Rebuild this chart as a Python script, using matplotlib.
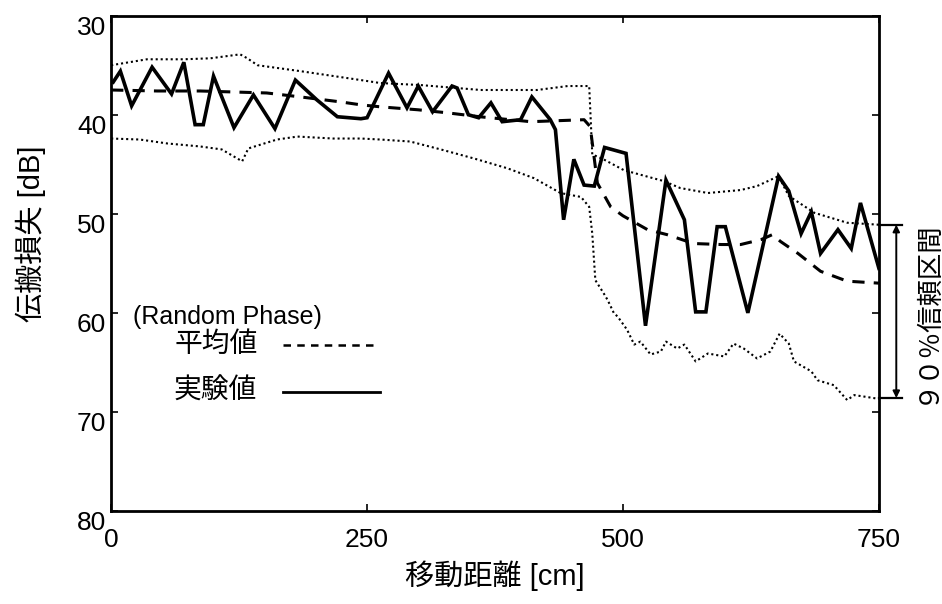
import matplotlib
matplotlib.use("Agg")
import matplotlib.pyplot as plt
from matplotlib.transforms import ScaledTranslation

plt.rcParams['font.family'] = ['Liberation Sans', 'Noto Sans CJK JP', 'DejaVu Sans']

# measured loss (実験値)
meas_x = [2, 9, 20, 40, 59, 71, 82, 90, 100, 120, 139, 160, 180, 201, 221, 244, 250,
          271, 289, 300, 314, 333, 338, 349, 359, 371, 382, 400, 411, 429, 434, 442,
          452, 462, 472, 482, 503, 522, 542, 560, 571, 581, 592, 600, 622, 652, 662,
          674, 684, 693, 710, 723, 732, 750]
meas_y = [36.7, 35.6, 39.1, 35.2, 37.9, 34.7, 41.0, 41.0, 36.1, 41.3, 38.0, 41.4, 36.5,
          38.5, 40.2, 40.4, 40.3, 35.8, 39.3, 37.1, 39.7, 37.1, 37.3, 40.0, 40.3, 38.8,
          40.7, 40.5, 38.2, 40.5, 41.5, 50.6, 44.5, 47.1, 47.2, 43.3, 43.9, 61.3, 46.6,
          50.6, 59.9, 59.9, 51.3, 51.3, 60.0, 46.2, 47.7, 52.0, 49.8, 54.0, 51.6, 53.5,
          48.9, 55.5]

# mean value (平均値)
mean_x = [0, 45, 87, 152, 185, 224, 244, 263, 300, 328, 360, 410, 462, 468, 475, 488,
          500, 524, 543, 569, 596, 615, 635, 646, 654, 671, 693, 719, 750]
mean_y = [37.5, 37.6, 37.6, 37.8, 38.2, 38.7, 39.0, 39.2, 39.5, 39.8, 40.2, 40.7, 40.5,
          41.2, 46.9, 49.3, 50.2, 51.6, 52.1, 53.0, 53.1, 53.1, 52.6, 52.1, 52.8, 54.0,
          55.8, 56.8, 57.0]

# 90% interval, upper edge
upper_x = [0, 35, 71, 97, 126, 133, 143, 185, 244, 263, 302, 361, 416, 446, 467, 470,
           481, 501, 540, 556, 583, 615, 631, 652, 662, 687, 719, 750]
upper_y = [35.0, 34.4, 34.4, 34.3, 33.9, 34.3, 35.0, 35.6, 36.5, 36.8, 37.0, 37.5, 37.5,
           37.1, 37.1, 44.0, 44.5, 45.6, 46.7, 47.4, 47.9, 47.6, 47.2, 46.2, 48.2, 49.9,
           50.9, 51.1]

# 90% interval, lower edge
lower_x = [0, 28, 55, 87, 108, 128, 134, 162, 182, 217, 244, 263, 292, 322, 354, 387,
           413, 439, 459, 467, 470, 473, 481, 485, 491, 495, 504, 511, 517, 527, 537,
           542, 553, 560, 571, 583, 599, 608, 618, 631, 644, 653, 662, 667, 684, 690,
           706, 719, 726, 745, 750]
lower_y = [42.4, 42.5, 42.9, 43.2, 43.5, 44.7, 43.4, 42.5, 42.2, 42.4, 42.4, 42.5, 42.7,
           43.5, 44.4, 45.4, 46.4, 47.9, 48.3, 49.3, 52.0, 56.7, 58.0, 58.7, 60.0, 60.4,
           61.7, 63.2, 62.9, 64.2, 63.9, 62.9, 63.6, 63.2, 64.9, 64.1, 64.4, 63.1, 63.6,
           64.6, 63.9, 62.1, 63.1, 64.9, 65.9, 66.8, 67.3, 68.8, 68.3, 68.6, 68.7]

x_ticks = [0, 250, 500, 750]
y_ticks = [30, 40, 50, 60, 70, 80]
interval_top, interval_bottom = 51.1, 68.6

fig = plt.figure(figsize=(9.42, 6.04), dpi=100)
ax = fig.add_axes([0.118, 0.154, 0.815, 0.82])

dot = (0, (1, 1.4))
ax.plot(upper_x, upper_y, color='black', lw=1.5, linestyle=dot)
ax.plot(lower_x, lower_y, color='black', lw=1.5, linestyle=dot)
ax.plot(mean_x, mean_y, color='black', lw=2.2, linestyle=(0, (4, 3)))
ax.plot(meas_x, meas_y, color='black', lw=2.6, solid_joinstyle='miter')

ax.set_xlim(0, 750)
ax.set_ylim(80, 30)
ax.set_xticks(x_ticks)
ax.set_yticks(y_ticks)
ax.tick_params(direction='in', length=5, width=1.2, labelsize=19,
               top=True, right=True)
ax.tick_params(axis='x', pad=12)
for s in ax.spines.values():
    s.set_linewidth(2)

# the scanned tick labels sit a little below their ticks
shift = ScaledTranslation(0, -7 / 72, fig.dpi_scale_trans)
for lab in ax.get_yticklabels():
    lab.set_transform(lab.get_transform() + shift)

ax.set_xlabel('移動距離 [cm]', fontsize=21, labelpad=6)
ax.set_ylabel('伝搬損失 [dB]', fontsize=21, labelpad=8)
ax.yaxis.set_label_coords(-0.085, 0.56)

# legend drawn by hand, as in the original
ax.text(0.029, 0.392, '(Random Phase)', transform=ax.transAxes, fontsize=18,
        va='center', ha='left')
ax.text(0.083, 0.335, '平均値', transform=ax.transAxes, fontsize=20,
        va='center', ha='left')
ax.text(0.081, 0.240, '実験値', transform=ax.transAxes, fontsize=20,
        va='center', ha='left')
ax.plot([0.224, 0.348], [0.335, 0.335], transform=ax.transAxes, color='black',
        lw=1.8, linestyle=(0, (3, 2.5)))
ax.plot([0.224, 0.350], [0.240, 0.240], transform=ax.transAxes, color='black', lw=2)

# 90% interval bracket on the right
ax.plot([750, 773], [interval_top, interval_top], color='black', lw=1.6, clip_on=False)
ax.plot([750, 773], [interval_bottom, interval_bottom], color='black', lw=1.6, clip_on=False)
ax.annotate('', xy=(767, interval_top), xytext=(767, interval_bottom),
            arrowprops=dict(arrowstyle='<|-|>', color='black', lw=1.4,
                            mutation_scale=10, shrinkA=0, shrinkB=0),
            annotation_clip=False)
ax.text(797, (interval_top + interval_bottom) / 2, '９０％信頼区間', rotation=90,
        fontsize=19, va='center', ha='center', clip_on=False)

fig.savefig('out.png', dpi=100)
